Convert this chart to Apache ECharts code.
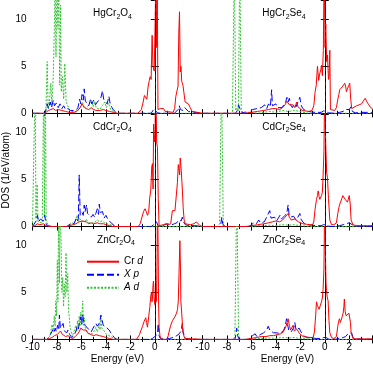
<!DOCTYPE html>
<html>
<head>
<meta charset="utf-8">
<script src="https://cdn.jsdelivr.net/npm/echarts@6/dist/echarts.min.js"></script>
<style>
  html, body { margin: 0; padding: 0; background: #fff; }
  #chart { width: 373px; height: 368px; }
</style>
</head>
<body>
<div id="chart"></div>
<script>
// energy (eV) vs DOS (1/eV/atom)
// HgCr2O4
const hgO_cr = [[-10,0],[-9.0,0],[-8.9,0.1],[-8.7,0.3],[-8.5,0.4],[-8.3,0.5],[-8.1,0.3],[-7.9,0.4],[-7.6,0.3],[-7.3,0.2],[-7.0,0.1],[-6.6,0.1],[-6.3,0.3],[-6.1,0.6],[-5.95,1.0],[-5.8,0.7],[-5.6,0.5],[-5.4,0.4],[-5.2,0.6],[-5.0,0.4],[-4.8,0.3],[-4.5,0.3],[-4.2,0.4],[-4.0,0.3],[-3.7,0.2],[-3.4,0.1],[-3.1,0],[-1.4,0],[-1.25,0.1],[-1.1,0.4],[-0.95,1.2],[-0.85,1.9],[-0.75,1.8],[-0.65,1.5],[-0.55,2.8],[-0.45,3.5],[-0.38,3.9],[-0.3,3.6],[-0.22,8.3],[-0.15,5.0],[-0.05,4.5],[0.02,9],[0.1,16],[0.15,7],[0.2,14],[0.26,0.4],[0.33,0.2],[0.45,0.5],[0.6,0.7],[0.72,0.5],[0.85,0.2],[1.0,0.1],[1.5,0.1],[1.62,0.5],[1.72,1.8],[1.82,2.0],[1.9,2.9],[1.96,8.5],[2.02,10.8],[2.08,4.4],[2.14,5.0],[2.2,3.4],[2.3,3.0],[2.4,2.9],[2.48,1.2],[2.6,1.1],[2.75,1.0],[2.9,0.6],[3.05,0.2],[3.2,0.1],[3.9,0]];
const hgO_xp = [[-10,0],[-9.0,0],[-8.9,0.4],[-8.8,1.0],[-8.7,0.5],[-8.55,1.2],[-8.45,0.6],[-8.3,1.4],[-8.2,0.8],[-8.05,1.1],[-7.9,0.6],[-7.75,1.0],[-7.6,0.5],[-7.45,0.8],[-7.3,0.4],[-7.1,0.5],[-6.9,0.3],[-6.6,0.3],[-6.3,0.5],[-6.15,1.5],[-6.05,1.0],[-5.95,2.0],[-5.85,1.4],[-5.77,2.6],[-5.68,1.3],[-5.55,1.1],[-5.4,0.8],[-5.25,1.5],[-5.15,1.0],[-5.0,1.4],[-4.85,0.9],[-4.7,1.2],[-4.55,1.0],[-4.4,1.7],[-4.28,2.4],[-4.18,1.5],[-4.05,1.3],[-3.9,1.0],[-3.75,1.8],[-3.65,1.0],[-3.5,0.6],[-3.35,0.3],[-3.2,0.1],[-3.0,0],[-0.3,0],[-0.15,0.2],[-0.05,0.5],[0.05,0.3],[0.2,0.05],[0.5,0],[1.6,0],[1.75,0.2],[1.9,0.4],[2.0,0.8],[2.1,0.4],[2.3,0.3],[2.45,0.6],[2.6,0.4],[2.75,0.2],[2.9,0.05],[3.9,0]];
const hgO_ad = [[-10,0],[-9.0,0],[-8.9,0.3],[-8.8,5.5],[-8.72,0.5],[-8.6,1.5],[-8.5,3.2],[-8.42,0.8],[-8.3,4],[-8.2,10.1],[-8.15,14],[-8.08,6],[-8.0,14],[-7.92,9],[-7.85,14],[-7.78,3],[-7.7,11.5],[-7.65,2.3],[-7.55,3.9],[-7.45,1.5],[-7.36,5.3],[-7.25,1.2],[-7.1,1.0],[-6.95,0.3],[-6.5,0.1],[-6.2,0.4],[-6.0,0.9],[-5.9,1.2],[-5.8,0.6],[-5.6,0.5],[-5.4,0.9],[-5.2,1.4],[-5.05,0.7],[-4.9,1.3],[-4.8,0.6],[-4.5,0.4],[-4.3,0.8],[-4.1,1.2],[-3.95,0.6],[-3.8,1.1],[-3.6,0.4],[-3.3,0.1],[-3.0,0],[3.9,0]];
// HgCr2Se4
const hgS_cr = [[-10,0],[-6.5,0],[-6.0,0.1],[-5.5,0.2],[-5.0,0.3],[-4.6,0.4],[-4.3,0.5],[-4.0,0.5],[-3.7,0.4],[-3.45,0.6],[-3.25,0.9],[-3.1,1.3],[-3.0,1.4],[-2.9,0.9],[-2.75,0.7],[-2.6,0.9],[-2.45,0.6],[-2.3,1.2],[-2.2,0.7],[-2.05,0.5],[-1.85,0.3],[-1.6,0.25],[-1.3,0.2],[-1.05,0.3],[-0.9,0.8],[-0.8,2.2],[-0.7,3.0],[-0.6,5.0],[-0.5,3.5],[-0.42,4.2],[-0.33,4.6],[-0.27,5.1],[-0.2,4.0],[-0.12,6.7],[-0.05,16],[0.02,7],[0.08,9.5],[0.15,5.5],[0.22,6.2],[0.3,3.6],[0.35,3.9],[0.41,6.7],[0.46,0.4],[0.6,0.3],[0.8,0.3],[0.95,0.6],[1.05,1.4],[1.15,2.0],[1.22,2.5],[1.32,2.4],[1.42,2.8],[1.5,3.0],[1.57,2.6],[1.63,3.2],[1.7,2.9],[1.77,2.3],[1.85,2.6],[1.95,2.7],[2.04,3.2],[2.12,1.5],[2.2,0.5],[2.35,0.6],[2.6,0.8],[2.8,0.9],[3.0,1.0],[3.15,1.3],[3.3,1.6],[3.45,1.2],[3.6,0.9],[3.75,0.6],[3.9,0.5]];
const hgS_xp = [[-10,0],[-7.3,0],[-7.15,0.3],[-7.05,0.9],[-6.95,0.5],[-6.8,0.1],[-6.3,0],[-6.1,0.2],[-5.9,0.4],[-5.75,0.2],[-5.55,0.5],[-5.4,0.3],[-5.2,0.6],[-5.05,0.4],[-4.9,0.9],[-4.75,0.5],[-4.6,1.0],[-4.45,0.7],[-4.35,2.5],[-4.28,0.8],[-4.15,0.6],[-4.0,1.0],[-3.85,0.6],[-3.7,0.8],[-3.5,0.6],[-3.35,0.9],[-3.2,1.2],[-3.1,1.7],[-3.0,1.2],[-2.9,1.6],[-2.8,0.9],[-2.65,0.6],[-2.5,1.0],[-2.35,0.7],[-2.2,1.2],[-2.1,1.4],[-2.04,1.7],[-1.95,0.9],[-1.8,0.5],[-1.6,0.3],[-1.4,0.2],[-1.1,0.15],[-0.8,0.1],[-0.3,0.1],[-0.1,0.25],[0.0,0.35],[0.1,0.2],[0.3,0.05],[0.8,0],[1.2,0.1],[1.5,0.2],[1.7,0.4],[1.85,0.6],[2.0,0.4],[2.15,0.7],[2.25,0.2],[2.5,0.05],[3.0,0.1],[3.5,0.1],[3.9,0.05]];
const hgS_ad = [[-10,0],[-7.55,0],[-7.52,0.2],[-7.4,16],[-7.28,0.3],[-7.15,0.6],[-7.07,0.3],[-6.95,16],[-6.83,0.2],[-6.7,0],[-5.5,0],[-5.0,0.1],[-4.5,0.2],[-4.0,0.1],[-3.5,0.3],[-3.0,0.2],[-2.5,0.3],[-2.0,0.2],[-1.6,0.05],[-1.2,0],[3.9,0]];
// CdCr2O4
const cdO_cr = [[-10,0],[-9.8,0.1],[-9.6,0.3],[-9.4,0.2],[-9.1,0.3],[-8.9,0.1],[-8.5,0],[-7.2,0],[-7.0,0.1],[-6.7,0.2],[-6.45,0.3],[-6.2,0.5],[-6.05,0.4],[-5.9,0.6],[-5.75,0.4],[-5.6,0.5],[-5.4,0.3],[-5.2,0.4],[-5.0,0.3],[-4.7,0.4],[-4.5,0.3],[-4.2,0.3],[-4.0,0.2],[-3.7,0.1],[-3.4,0],[-1.35,0],[-1.2,0.3],[-1.05,1.0],[-0.92,1.6],[-0.8,1.9],[-0.7,1.6],[-0.6,1.2],[-0.5,1.5],[-0.42,3.0],[-0.33,3.9],[-0.25,6.4],[-0.19,6.7],[-0.14,4.0],[-0.1,10.9],[-0.04,9.0],[0.02,10.2],[0.08,16],[0.15,9],[0.22,8.4],[0.28,3.0],[0.35,0.1],[0.5,0.1],[0.7,0.2],[0.9,0.3],[1.1,0.2],[1.3,0.3],[1.44,1.7],[1.55,1.8],[1.65,1.7],[1.75,1.9],[1.85,4.7],[1.92,6.6],[1.98,6.8],[2.03,5.5],[2.08,7.3],[2.16,6.0],[2.25,4.0],[2.32,2.0],[2.4,0.7],[2.5,0.3],[2.65,0.2],[2.9,0.2],[3.2,0.3],[3.4,0.5],[3.55,0.3],[3.7,0.1],[3.9,0]];
const cdO_xp = [[-10,0],[-9.85,0.1],[-9.7,0.6],[-9.6,1.2],[-9.5,0.5],[-9.35,0.8],[-9.2,1.0],[-9.1,0.6],[-9.0,1.2],[-8.9,0.3],[-8.7,0.05],[-8.0,0],[-7.2,0],[-7.0,0.2],[-6.8,0.4],[-6.6,0.3],[-6.45,0.8],[-6.35,0.5],[-6.25,0.9],[-6.18,5.5],[-6.1,1.2],[-6.05,1.0],[-5.95,1.5],[-5.85,1.2],[-5.77,2.3],[-5.7,1.6],[-5.58,2.3],[-5.5,1.4],[-5.35,1.2],[-5.2,1.0],[-5.05,1.3],[-4.92,1.0],[-4.82,1.4],[-4.7,1.9],[-4.6,1.3],[-4.54,2.4],[-4.45,1.5],[-4.35,1.3],[-4.27,1.6],[-4.15,0.9],[-4.0,1.2],[-3.85,0.8],[-3.7,0.6],[-3.5,0.3],[-3.3,0.1],[-3.1,0],[-0.3,0],[-0.1,0.2],[0.05,0.4],[0.15,0.5],[0.25,0.1],[0.5,0],[0.8,0.2],[1.0,0.3],[1.2,0.25],[1.4,0.2],[1.6,0.3],[1.8,0.4],[1.95,0.7],[2.05,0.9],[2.15,0.6],[2.25,1.0],[2.35,0.5],[2.5,0.2],[2.8,0.1],[3.2,0.1],[3.9,0.05]];
const cdO_ad = [[-10,0],[-9.85,0.2],[-9.78,16],[-9.72,0.8],[-9.62,4.5],[-9.55,0.5],[-9.4,0.3],[-9.2,0.4],[-9.08,16],[-9.02,1],[-8.95,16],[-8.88,0.6],[-8.75,0.2],[-8.5,0],[-7.2,0],[-6.9,0.2],[-6.7,0.4],[-6.5,0.6],[-6.36,1.2],[-6.25,0.5],[-6.15,0.9],[-6.0,0.6],[-5.85,0.8],[-5.7,0.5],[-5.6,0.8],[-5.45,0.4],[-5.3,0.6],[-5.1,0.4],[-4.9,0.5],[-4.7,0.7],[-4.5,0.5],[-4.3,0.6],[-4.1,0.4],[-3.9,0.3],[-3.6,0.2],[-3.3,0.05],[-3.0,0],[3.9,0]];
// CdCr2Se4
const cdS_cr = [[-10,0],[-6.5,0],[-6.0,0.1],[-5.5,0.2],[-5.0,0.3],[-4.6,0.4],[-4.3,0.5],[-4.0,0.6],[-3.7,0.5],[-3.45,0.7],[-3.25,1.0],[-3.1,1.2],[-3.0,1.4],[-2.9,1.0],[-2.75,0.7],[-2.6,0.6],[-2.45,0.8],[-2.3,0.8],[-2.15,0.5],[-2.0,0.4],[-1.8,0.3],[-1.5,0.25],[-1.2,0.2],[-1.0,0.2],[-0.9,0.5],[-0.8,1.8],[-0.68,2.9],[-0.6,3.3],[-0.54,3.8],[-0.47,3.2],[-0.41,2.9],[-0.34,3.0],[-0.27,3.3],[-0.2,3.6],[-0.14,5.4],[-0.07,8.0],[0.0,16],[0.05,10],[0.08,8.6],[0.15,5.8],[0.22,5.2],[0.3,3.0],[0.41,0.7],[0.55,0.2],[0.75,0.2],[0.95,0.4],[1.06,1.4],[1.15,2.0],[1.2,2.3],[1.3,2.5],[1.4,3.0],[1.47,3.3],[1.55,3.4],[1.6,3.5],[1.67,2.9],[1.75,2.8],[1.85,2.6],[1.92,2.9],[2.0,3.3],[2.08,2.4],[2.15,0.7],[2.3,0.2],[2.6,0.1],[3.0,0.1],[3.5,0.1],[3.9,0.1]];
const cdS_xp = [[-10,0],[-8.6,0],[-8.5,0.3],[-8.42,1.0],[-8.35,0.3],[-8.2,0],[-6.2,0],[-6.0,0.2],[-5.8,0.4],[-5.6,0.3],[-5.4,0.7],[-5.25,0.4],[-5.1,0.6],[-4.95,0.5],[-4.8,0.9],[-4.65,0.7],[-4.5,1.7],[-4.4,0.9],[-4.25,0.7],[-4.1,1.0],[-3.95,0.6],[-3.8,0.9],[-3.67,1.2],[-3.55,0.8],[-3.4,0.9],[-3.25,1.2],[-3.1,1.5],[-3.0,2.3],[-2.92,1.3],[-2.8,1.0],[-2.65,0.8],[-2.55,1.1],[-2.45,1.2],[-2.35,0.7],[-2.2,1.0],[-2.1,1.2],[-2.04,1.4],[-1.95,0.8],[-1.8,0.5],[-1.63,0.3],[-1.4,0.2],[-1.1,0.15],[-0.7,0.1],[-0.3,0.1],[-0.1,0.2],[0.0,0.4],[0.1,0.2],[0.3,0.05],[0.8,0],[1.2,0.1],[1.5,0.2],[1.7,0.3],[1.85,0.5],[2.0,0.4],[2.15,0.6],[2.25,0.2],[2.5,0.05],[3.9,0]];
const cdS_ad = [[-10,0],[-8.75,0],[-8.6,0.3],[-8.45,16],[-8.3,0.3],[-8.15,0],[-6,0],[-5.5,0.1],[-5,0.1],[-4.5,0.15],[-4,0.1],[-3.5,0.2],[-3,0.15],[-2.5,0.2],[-2,0.1],[-1.5,0.05],[-1,0],[3.9,0]];
// ZnCr2O4
const znO_cr = [[-10,0],[-8.8,0],[-8.6,0.1],[-8.4,0.2],[-8.2,0.4],[-8.0,0.5],[-7.85,0.4],[-7.7,0.9],[-7.6,0.6],[-7.45,0.5],[-7.3,0.3],[-7.1,0.4],[-6.9,0.2],[-6.7,0.1],[-6.5,0.3],[-6.3,0.6],[-6.15,0.9],[-6.05,1.2],[-5.95,1.4],[-5.85,1.0],[-5.75,1.1],[-5.63,1.0],[-5.5,0.7],[-5.35,0.6],[-5.2,0.5],[-5.0,0.4],[-4.8,0.5],[-4.65,0.3],[-4.54,0.4],[-4.4,0.3],[-4.2,0.3],[-4.0,0.2],[-3.7,0.1],[-3.4,0],[-1.5,0],[-1.4,0.1],[-1.25,0.5],[-1.15,0.9],[-1.0,1.4],[-0.88,1.9],[-0.8,2.1],[-0.74,2.3],[-0.67,1.8],[-0.6,1.3],[-0.5,2.4],[-0.41,3.4],[-0.33,4.6],[-0.27,5.0],[-0.23,4.0],[-0.19,4.4],[-0.15,5.7],[-0.11,6.2],[-0.05,4.5],[0.0,3.7],[0.07,3.9],[0.14,4.1],[0.19,9],[0.22,16],[0.27,10],[0.31,4],[0.35,1.3],[0.42,0.4],[0.49,0.1],[0.7,0],[1.0,0],[1.1,0.4],[1.2,1.0],[1.3,1.5],[1.37,1.7],[1.45,2.0],[1.5,2.2],[1.57,2.0],[1.64,2.4],[1.72,2.5],[1.78,2.8],[1.86,3.2],[1.92,4.1],[1.98,7.0],[2.05,10.5],[2.1,7.5],[2.13,4.1],[2.2,2.8],[2.3,0.7],[2.45,0.1],[2.6,0],[3.9,0]];
const znO_xp = [[-10,0],[-8.8,0],[-8.65,0.3],[-8.5,0.6],[-8.35,1.0],[-8.25,0.7],[-8.15,1.2],[-8.05,0.8],[-7.95,1.5],[-7.85,1.0],[-7.8,2.6],[-7.72,1.2],[-7.6,1.0],[-7.5,1.7],[-7.4,0.9],[-7.3,1.1],[-7.2,0.7],[-7.1,1.0],[-6.95,0.5],[-6.8,0.2],[-6.6,0.4],[-6.45,0.9],[-6.35,1.4],[-6.25,1.1],[-6.15,1.8],[-6.05,2.4],[-5.97,1.6],[-5.9,2.6],[-5.8,1.8],[-5.7,1.5],[-5.63,1.7],[-5.5,1.2],[-5.36,1.0],[-5.2,0.8],[-5.05,1.2],[-4.95,1.1],[-4.82,1.7],[-4.7,1.4],[-4.6,1.6],[-4.5,1.8],[-4.41,2.6],[-4.3,2.0],[-4.22,1.5],[-4.14,1.7],[-4.0,1.3],[-3.85,1.2],[-3.73,1.0],[-3.6,0.7],[-3.45,0.5],[-3.32,0.2],[-3.1,0],[-0.4,0],[-0.2,0.1],[0.0,0.3],[0.06,0.4],[0.15,0.3],[0.22,0.6],[0.28,1.7],[0.34,0.4],[0.45,0.1],[0.8,0],[1.2,0.1],[1.5,0.2],[1.8,0.4],[2.0,0.6],[2.15,0.9],[2.25,1.7],[2.32,0.8],[2.4,0.4],[2.55,0.1],[3.0,0],[3.9,0]];
const znO_ad = [[-10,0],[-8.8,0],[-8.6,0.3],[-8.5,0.8],[-8.4,1.6],[-8.32,0.9],[-8.22,2.5],[-8.15,1.4],[-8.1,4.1],[-8.03,2.5],[-7.97,8.4],[-7.92,4],[-7.86,14],[-7.8,6],[-7.74,14],[-7.67,10.7],[-7.6,5],[-7.53,6.6],[-7.46,3.5],[-7.4,5.9],[-7.33,4.5],[-7.26,9.2],[-7.19,5],[-7.12,7.0],[-7.05,3],[-6.99,2.3],[-6.92,1.2],[-6.85,0.9],[-6.75,0.3],[-6.6,0.5],[-6.45,1.5],[-6.38,0.8],[-6.32,2.0],[-6.25,1.2],[-6.18,2.5],[-6.1,1.5],[-6.05,2.9],[-5.98,1.8],[-5.9,4.1],[-5.83,1.5],[-5.77,2.3],[-5.7,1.3],[-5.58,1.2],[-5.45,0.6],[-5.3,0.5],[-5.1,0.6],[-4.95,0.9],[-4.82,1.3],[-4.7,0.8],[-4.62,1.2],[-4.55,1.6],[-4.48,1.0],[-4.41,2.3],[-4.33,1.2],[-4.22,1.0],[-4.14,0.9],[-4.0,0.6],[-3.85,0.5],[-3.6,0.3],[-3.3,0.1],[-3.0,0],[3.9,0]];
// ZnCr2Se4
const znS_cr = [[-10,0],[-6.5,0],[-6.0,0.1],[-5.6,0.2],[-5.2,0.3],[-4.8,0.3],[-4.5,0.4],[-4.2,0.4],[-3.9,0.5],[-3.6,0.6],[-3.4,0.8],[-3.2,1.3],[-3.08,1.8],[-3.0,2.2],[-2.9,1.5],[-2.8,1.0],[-2.7,1.2],[-2.59,1.5],[-2.5,0.9],[-2.4,0.8],[-2.3,1.1],[-2.18,1.0],[-2.05,0.6],[-1.9,0.4],[-1.77,0.3],[-1.5,0.25],[-1.2,0.2],[-0.95,0.2],[-0.85,0.8],[-0.75,2.5],[-0.68,4.0],[-0.6,3.6],[-0.54,3.7],[-0.47,3.2],[-0.41,3.0],[-0.34,3.4],[-0.27,4.0],[-0.2,4.4],[-0.14,5.3],[-0.07,7.5],[0.0,16],[0.05,9],[0.1,6.0],[0.14,5.2],[0.2,4.5],[0.27,4.1],[0.34,2.0],[0.41,0.7],[0.55,0.2],[0.75,0.1],[0.95,0.3],[1.06,1.4],[1.13,1.9],[1.2,2.2],[1.27,1.8],[1.33,2.0],[1.42,2.4],[1.5,2.8],[1.56,3.5],[1.6,4.3],[1.66,3.0],[1.75,2.5],[1.85,2.6],[1.97,2.8],[2.05,2.6],[2.1,1.8],[2.15,0.7],[2.3,0.1],[2.6,0.05],[3.9,0.05]];
const znS_xp = [[-10,0],[-7.35,0],[-7.27,0.5],[-7.2,1.2],[-7.13,0.4],[-7.0,0],[-6.2,0],[-6.0,0.3],[-5.85,0.5],[-5.7,0.6],[-5.55,0.3],[-5.4,0.5],[-5.3,0.5],[-5.15,0.4],[-5.0,0.7],[-4.85,0.6],[-4.75,1.0],[-4.63,1.4],[-4.5,1.0],[-4.35,0.9],[-4.2,0.7],[-4.05,0.6],[-3.9,0.7],[-3.8,0.5],[-3.65,0.6],[-3.5,0.8],[-3.35,1.0],[-3.22,1.5],[-3.13,2.2],[-3.05,1.6],[-2.95,1.0],[-2.86,1.2],[-2.75,0.8],[-2.6,1.0],[-2.52,1.3],[-2.45,1.8],[-2.35,1.0],[-2.2,1.1],[-2.1,1.2],[-2.04,1.4],[-1.95,0.8],[-1.8,0.5],[-1.63,0.3],[-1.4,0.2],[-1.1,0.15],[-0.7,0.1],[-0.3,0.1],[-0.1,0.2],[0.0,0.3],[0.1,0.2],[0.3,0.05],[0.8,0],[1.2,0.1],[1.5,0.2],[1.7,0.3],[1.9,0.6],[2.05,0.5],[2.2,0.7],[2.3,0.2],[2.5,0.05],[3.9,0]];
const znS_ad = [[-10,0],[-7.5,0],[-7.35,0.3],[-7.2,16],[-7.05,0.3],[-6.9,0],[-6,0],[-5.5,0.1],[-5,0.1],[-4.5,0.15],[-4,0.1],[-3.5,0.2],[-3,0.15],[-2.5,0.2],[-2,0.1],[-1.5,0.05],[-1,0],[3.9,0]];

const compounds = ['HgCr{s|2}O{s|4}', 'HgCr{s|2}Se{s|4}', 'CdCr{s|2}O{s|4}', 'CdCr{s|2}Se{s|4}', 'ZnCr{s|2}O{s|4}', 'ZnCr{s|2}Se{s|4}']
const crD = [hgO_cr, hgS_cr, cdO_cr, cdS_cr, znO_cr, znS_cr]
const xP = [hgO_xp, hgS_xp, cdO_xp, cdS_xp, znO_xp, znS_xp]
const aD = [hgO_ad, hgS_ad, cdO_ad, cdS_ad, znO_ad, znS_ad]
const seriesNames = ['Cr d', 'X p', 'A d']

// layout
const colLeft = [32.5, 202.5]
const rowTop = [0.5, 113.8, 226.6]
const panelW = 170
const panelH = 112.8
const titlePos = [[112.5, 13.5], [284, 13.5], [112.5, 127], [284, 127], [116, 240], [284, 240]]

const font = 'Liberation Sans'
const axisColor = '#000'

const grids = []
const xAxes = []
const yAxes = []
const series = []
const graphics = []

for (let i = 0; i < 6; i++) {
  const row = Math.floor(i / 2)
  const col = i % 2
  grids.push({ left: colLeft[col], top: rowTop[row], width: panelW, height: panelH })

  const xBase = {
    gridIndex: i,
    type: 'value',
    min: -10,
    max: 3.9,
    interval: 2,
    axisLine: { lineStyle: { color: axisColor, width: 1 } },
    axisTick: { inside: true, length: 4, lineStyle: { color: axisColor } },
    minorTick: { show: true, splitNumber: 2, length: 2.5, lineStyle: { color: axisColor } },
    splitLine: { show: false },
    minorSplitLine: { show: false }
  }
  xAxes.push(Object.assign({}, xBase, {
    position: 'bottom',
    axisLabel: { show: row === 2, fontSize: 10, margin: 3, color: '#000', fontFamily: font, showMaxLabel: false },
    name: row === 2 ? 'Energy (eV)' : '',
    nameLocation: 'middle',
    nameGap: 15,
    nameTextStyle: { fontSize: 10, color: '#000', fontFamily: font }
  }))
  xAxes.push(Object.assign({}, xBase, { position: 'top', axisLabel: { show: false } }))

  const yBase = {
    gridIndex: i,
    type: 'value',
    min: 0,
    max: 12,
    interval: 5,
    axisLine: { show: true, lineStyle: { color: axisColor, width: 1 } },
    axisTick: { show: true, inside: true, length: 4, lineStyle: { color: axisColor } },
    splitLine: { show: false }
  }
  yAxes.push(Object.assign({}, yBase, {
    position: 'left',
    axisLabel: { show: col === 0, fontSize: 10, margin: 6, color: '#000', fontFamily: font, showMaxLabel: false },
    name: (i === 2) ? 'DOS (1/eV/atom)' : '',
    nameLocation: 'middle',
    nameGap: 14,
    nameTextStyle: { fontSize: 10, color: '#000', fontFamily: font }
  }))
  yAxes.push(Object.assign({}, yBase, { position: 'right', axisLabel: { show: false } }))

  const common = {
    type: 'line',
    xAxisIndex: i * 2,
    yAxisIndex: i * 2,
    showSymbol: false,
    symbol: 'none',
    animation: false,
    clip: true
  }
  series.push(Object.assign({}, common, {
    name: 'A d',
    data: aD[i],
    itemStyle: { color: '#2fc42f' },
    lineStyle: { color: '#2fc42f', width: 1, type: [2, 1.5] },
    markLine: {
      silent: true,
      symbol: ['none', 'none'],
      label: { show: false },
      animation: false,
      lineStyle: { color: '#222', width: 1, type: [4, 3] },
      data: [{ xAxis: 0 }]
    }
  }))
  series.push(Object.assign({}, common, {
    name: 'X p',
    data: xP[i],
    itemStyle: { color: '#0000ff' },
    lineStyle: { color: '#0000ff', width: 1, type: [7, 3] }
  }))
  series.push(Object.assign({}, common, {
    name: 'Cr d',
    data: crD[i],
    itemStyle: { color: '#ff0000' },
    lineStyle: { color: '#ff0000', width: 1 }
  }))

  graphics.push({
    type: 'text',
    x: titlePos[i][0],
    y: titlePos[i][1],
    style: {
      text: compounds[i],
      fill: '#000',
      fontSize: 10,
      fontFamily: font,
      align: 'center',
      verticalAlign: 'middle',
      rich: {
        s: { fontSize: 7, fontFamily: font, lineHeight: 14, verticalAlign: 'bottom', fill: '#000' }
      }
    }
  })
}

const chart = echarts.init(document.getElementById('chart'), null, { renderer: 'canvas' })
chart.setOption({
  backgroundColor: '#fff',
  animation: false,
  textStyle: { fontFamily: font },
  grid: grids,
  xAxis: xAxes,
  yAxis: yAxes,
  legend: {
    data: seriesNames,
    orient: 'vertical',
    left: 86,
    top: 256.7,
    itemWidth: 32,
    itemHeight: 10,
    itemGap: 3,
    padding: 0,
    itemStyle: { opacity: 0 },
    textStyle: {
      fontSize: 10,
      color: '#000',
      fontFamily: font,
      rich: {
        n: { fontSize: 10, fontFamily: font, color: '#000' },
        i: { fontSize: 10, fontFamily: font, fontStyle: 'italic', color: '#000' }
      }
    },
    formatter: function (name) {
      if (name === 'Cr d') return '{n|Cr} {i|d}'
      if (name === 'X p') return '{i|X p}'
      return '{i|A d}'
    }
  },
  graphic: graphics,
  series: series
})
</script>
</body>
</html>
